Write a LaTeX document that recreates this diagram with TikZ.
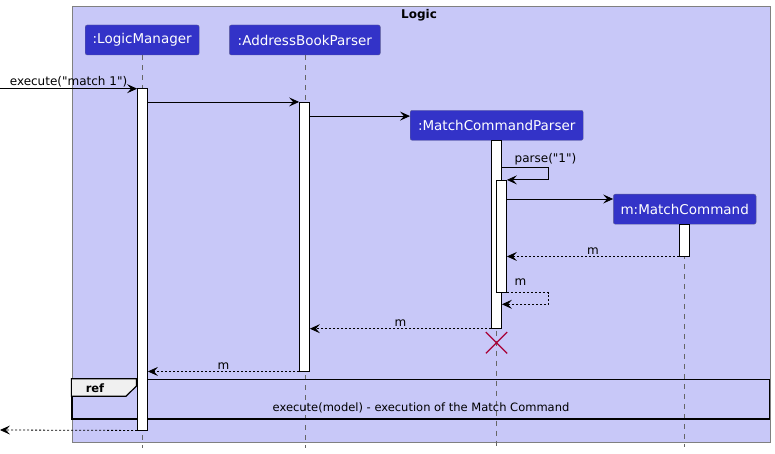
\documentclass[tikz,border=0pt]{standalone}
\usepackage{fontspec}
\setmainfont{DejaVu Sans}[Ligatures=TeXOff]
\usetikzlibrary{arrows.meta,shapes.misc}

\definecolor{frameBg}{RGB}{200,200,248}
\definecolor{partBg}{RGB}{51,51,200}
\definecolor{partBd}{RGB}{96,96,150}
\definecolor{xRed}{RGB}{168,0,54}

\tikzstyle{pS}=[rectangle,rounded corners=2pt,draw=partBd,fill=partBg,text=white,minimum height=30pt,inner sep=0pt,font=\fontsize{13.5}{16}\selectfont]
\tikzstyle{aS}=[rectangle,draw,fill=white,minimum width=10pt,inner sep=0pt,line width=0.8pt]
\tikzstyle{llS}=[gray!80!black,line width=0.6pt,dash pattern=on 5pt off 5pt]
\tikzstyle{mS}=[line width=0.8pt,-{Stealth[length=10pt,width=9pt,inset=4pt]}]
\tikzstyle{rS}=[mS,dash pattern=on 2pt off 2pt]
\tikzstyle{lS}=[font=\fontsize{12}{14}\selectfont,inner sep=1.5pt]

\begin{document}
\begin{tikzpicture}[x=1pt,y=-1pt]%[pixel units, y down]
                \useasboundingbox (0,0) rectangle (775,454);
                \draw (421.1,224.2) node[draw=gray,fill=frameBg,minimum width=698.8pt,minimum height=436.3pt,inner sep=0pt] (logic) {};
                \draw (419,15) node[font=\bfseries\fontsize{12}{14}\selectfont] (title) {Logic};
                \draw (142.2,40) node[pS,minimum width=114pt] (lm) {:LogicManager};
                \draw (304.8,40) node[pS,minimum width=151pt] (abp) {:AddressBookParser};
                \draw (496.7,125.3) node[pS,minimum width=173pt] (mcp) {:MatchCommandParser};
                \draw (684.7,209.2) node[pS,minimum width=142.7pt] (mc) {m:MatchCommand};
                % lifelines
                \draw[llS] (lm.south) -- (lm.south |- 0,448);
                \draw[llS] (abp.south) -- (abp.south |- 0,448);
                \draw[llS] (mcp.south) -- (mcp.south |- 0,448);
                \draw[llS] (mc.south) -- (mc.south |- 0,447);
                % ref frame
                \draw (420.7,399.2) node[draw,line width=1.2pt,minimum width=697.5pt,minimum height=39.7pt,inner sep=0pt] (ref) {};
                \draw[line width=1.2pt,fill=gray!12] (ref.north west) -- ++(65,0) -- ++(0,7.4) -- ++(-10.3,10) -- ([yshift=-17.4pt]ref.north west) -- cycle;
                \draw (95,388) node[font=\bfseries\fontsize{11.5}{14}\selectfont] (reflbl) {ref};
                \draw (421,408) node[font=\fontsize{11.5}{14}\selectfont] (reftxt) {execute(model) - execution of the Match Command};
                % activations
                \draw (142.5,259.2) node[aS,minimum height=341.7pt] (a0) {};
                \draw (304.5,236.7) node[aS,minimum height=268.7pt] (a1) {};
                \draw (496.5,234.5) node[aS,minimum height=187.6pt] (a2) {};
                \draw (501.5,236.3) node[aS,minimum height=112pt] (a3) {};
                \draw (684.3,240.4) node[aS,minimum height=31.3pt] (a4) {};
                \coordinate (in0) at (0,88.7);
                \coordinate (out0) at (0,430);
                \coordinate (c2) at ([yshift=-6pt]mcp.north west);
                \coordinate (c3) at ([yshift=-5pt]mc.north west);
                \coordinate (s1) at (548.7,167.7);
                \coordinate (s2) at (548.7,304.3);
                \path
                    (in0) edge[mS] node[lS,above]{execute("match 1")} (in0 -| a0.west)
                    (a0.east |- a1.north) edge[mS] (a1.north west)
                    (a1.east |- c2) edge[mS] (c2)
                    (a3.east |- c3) edge[mS] (c3)
                    (a4.south west) edge[rS] node[lS,above]{m} (a3.east |- a4.south)
                    (a2.south west) edge[rS] node[lS,above]{m} (a1.east |- a2.south)
                    (a1.south west) edge[rS] node[lS,above]{m} (a0.east |- a1.south)
                    (a0.south west) edge[rS] (out0)
                ;
                \draw[mS] (a2.east |- s1) -- (s1) |- (a3.north east);
                \draw (513,159) node[lS,anchor=west] (l1) {parse("1")};
                \draw[rS] (a3.south east) -| (s2) -- (a2.east |- s2);
                \draw (513,282) node[lS,anchor=west] (l2) {m};
                \draw ([yshift=-14pt]a2.south) node[cross out,draw=xRed,line width=1.3pt,minimum size=20pt,inner sep=0pt] (dx) {};
        \end{tikzpicture}
\end{document}
